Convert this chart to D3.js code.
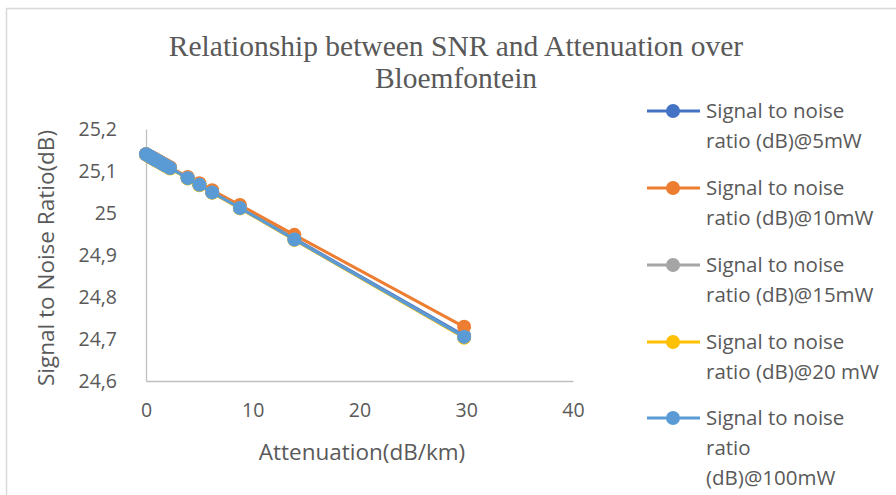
<!DOCTYPE html>
<html>
<head>
<meta charset="utf-8">
<script src="https://cdn.jsdelivr.net/npm/d3@7"></script>
<style>
  html, body { margin: 0; padding: 0; background: #fff; }
  svg { display: block; }
</style>
</head>
<body>
<svg id="chart" width="896" height="495"></svg>
<script>
// Rain attenuation (dB/km) sampled for Bloemfontein
const attenuation = [0, 0.2, 0.4, 0.6, 0.8, 1.0, 1.25, 1.5, 1.75, 2.0, 2.25, 3.9, 5.0, 6.2, 8.8, 13.9, 29.8];

// SNR (dB) for each transmit power
const snr5mW   = [25.140, 25.137, 25.134, 25.131, 25.128, 25.125, 25.122, 25.118, 25.115, 25.111, 25.108, 25.084, 25.068, 25.050, 25.013, 24.939, 24.708];
const snr10mW  = [25.140, 25.137, 25.134, 25.132, 25.129, 25.126, 25.123, 25.119, 25.116, 25.112, 25.109, 25.086, 25.071, 25.054, 25.019, 24.948, 24.729];
const snr15mW  = [25.140, 25.137, 25.134, 25.131, 25.128, 25.125, 25.122, 25.118, 25.114, 25.111, 25.107, 25.083, 25.067, 25.049, 25.012, 24.937, 24.705];
const snr20mW  = [25.139, 25.136, 25.133, 25.130, 25.127, 25.124, 25.121, 25.117, 25.113, 25.110, 25.106, 25.082, 25.066, 25.048, 25.011, 24.936, 24.703];
const snr100mW = [25.140, 25.137, 25.134, 25.131, 25.128, 25.125, 25.122, 25.118, 25.114, 25.111, 25.107, 25.083, 25.067, 25.049, 25.012, 24.937, 24.705];

const seriesNames = [
  ["Signal to noise", "ratio (dB)@5mW"],
  ["Signal to noise", "ratio (dB)@10mW"],
  ["Signal to noise", "ratio (dB)@15mW"],
  ["Signal to noise", "ratio (dB)@20 mW"],
  ["Signal to noise", "ratio", "(dB)@100mW"]
];
const seriesColors = ["#4472C4", "#ED7D31", "#A5A5A5", "#FFC000", "#5B9BD5"];
const seriesValues = [snr5mW, snr10mW, snr15mW, snr20mW, snr100mW];

const xTicks = [0, 10, 20, 30, 40];
const yTicks = [24.6, 24.7, 24.8, 24.9, 25.0, 25.1, 25.2];

const titleLines = ["Relationship between SNR and Attenuation over", "Bloemfontein"];
const xTitle = "Attenuation(dB/km)";
const yTitle = "Signal to Noise Ratio(dB)";

const textColor = "#595959";
const sansFont = "'Open Sans', 'Liberation Sans', sans-serif";

const svg = d3.select("#chart");

// chart frame
svg.append("rect")
  .attr("x", 6.5).attr("y", 8.5)
  .attr("width", 1000).attr("height", 600)
  .attr("fill", "none").attr("stroke", "#d9d9d9").attr("stroke-width", 1.5);

const plot = { left: 146, right: 573, top: 129, bottom: 381 };

const x = d3.scaleLinear().domain([0, 40]).range([plot.left, plot.right]);
const y = d3.scaleLinear().domain([24.6, 25.2]).range([plot.bottom, plot.top]);

const fmt = v => d3.format(".1f")(v).replace(/\.0$/, "").replace(".", ",");

// x axis
const xAxis = svg.append("g")
  .attr("transform", `translate(0,${plot.bottom})`)
  .call(d3.axisBottom(x).tickValues(xTicks).tickSize(0).tickPadding(22).tickFormat(d3.format("d")));
xAxis.select(".domain").attr("stroke", "#bfbfbf").attr("stroke-width", 1.3);
xAxis.selectAll("text")
  .attr("fill", textColor).attr("font-size", 19.5).attr("font-family", sansFont)
  .attr("dy", "0.71em");

// y axis
const yAxis = svg.append("g")
  .attr("transform", `translate(${plot.left},0)`)
  .call(d3.axisLeft(y).tickValues(yTicks).tickSize(0).tickPadding(29).tickFormat(fmt));
yAxis.select(".domain").attr("stroke", "#bfbfbf").attr("stroke-width", 1.3);
yAxis.selectAll("text")
  .attr("fill", textColor).attr("font-size", 19.5).attr("font-family", sansFont);

// axis titles
svg.append("text")
  .attr("x", 362).attr("y", 460)
  .attr("text-anchor", "middle")
  .attr("fill", textColor).attr("font-size", 22.5).attr("font-family", sansFont)
  .text(xTitle);

svg.append("text")
  .attr("transform", `translate(54,258) rotate(-90)`)
  .attr("text-anchor", "middle")
  .attr("fill", textColor).attr("font-size", 22.5).attr("font-family", sansFont)
  .text(yTitle);

// title
svg.append("g").selectAll("text")
  .data(titleLines)
  .join("text")
  .attr("x", 456).attr("y", (d, i) => 56 + i * 32)
  .attr("text-anchor", "middle")
  .attr("fill", textColor).attr("font-size", 29.5).attr("font-family", "'Liberation Serif', 'Times New Roman', serif")
  .text(d => d);

// series lines and markers
const line = d3.line().x((d, i) => x(attenuation[i])).y(d => y(d));

seriesValues.forEach((vals, s) => {
  const g = svg.append("g");
  g.append("path")
    .datum(vals)
    .attr("d", line)
    .attr("fill", "none")
    .attr("stroke", seriesColors[s])
    .attr("stroke-width", 3)
    .attr("stroke-linejoin", "round");
  g.selectAll("circle")
    .data(vals)
    .join("circle")
    .attr("cx", (d, i) => x(attenuation[i]))
    .attr("cy", d => y(d))
    .attr("r", 7)
    .attr("fill", seriesColors[s]);
});

// legend
const legendTop = [111, 188, 265, 342, 418];
const legend = svg.append("g");
seriesNames.forEach((lines, s) => {
  const cy = legendTop[s];
  legend.append("line")
    .attr("x1", 647).attr("x2", 700).attr("y1", cy).attr("y2", cy)
    .attr("stroke", seriesColors[s]).attr("stroke-width", 3);
  legend.append("circle")
    .attr("cx", 673).attr("cy", cy).attr("r", 7)
    .attr("fill", seriesColors[s]);
  lines.forEach((t, k) => {
    legend.append("text")
      .attr("x", 706).attr("y", cy + k * 30)
      .attr("dy", "0.35em")
      .attr("fill", textColor).attr("font-size", 20.5).attr("font-family", sansFont)
      .text(t);
  });
});
</script>
</body>
</html>
